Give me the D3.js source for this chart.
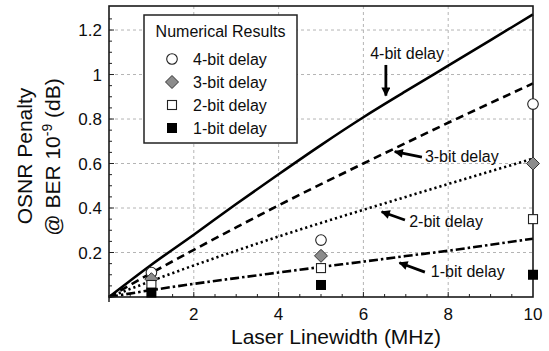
<!DOCTYPE html>
<html>
<head>
<meta charset="utf-8">
<script src="https://cdn.jsdelivr.net/npm/d3@7"></script>
<style>
  html, body { margin: 0; padding: 0; background: #fff; }
  svg { display: block; }
</style>
</head>
<body>
<svg id="chart" width="549" height="351"></svg>
<script>
// ─── Data ───────────────────────────────────────────────────────────────────
const linewidth = [0, 1, 2, 3, 4, 5, 6, 7, 8, 9, 10];           // MHz
const theory4 = [0, 0.145, 0.28, 0.418, 0.552, 0.683, 0.808, 0.925, 1.04, 1.155, 1.27];
const theory3 = [0, 0.108, 0.212, 0.313, 0.412, 0.507, 0.6, 0.692, 0.783, 0.872, 0.96];
const theory2 = [0, 0.072, 0.142, 0.208, 0.272, 0.333, 0.392, 0.45, 0.508, 0.565, 0.622];
const theory1 = [0, 0.031, 0.059, 0.085, 0.11, 0.135, 0.159, 0.184, 0.208, 0.235, 0.262];

const simX = [1, 5, 10];
const sim4 = [0.11, 0.256, 0.867];
const sim3 = [0.08, 0.185, 0.60];
const sim2 = [0.054, 0.13, 0.35];
const sim1 = [0.02, 0.054, 0.10];

const xTicks = [2, 4, 6, 8, 10];
const yTicks = [0.2, 0.4, 0.6, 0.8, 1, 1.2];
const legendLabels = ['4-bit delay', '3-bit delay', '2-bit delay', '1-bit delay'];

// annotation: text anchor point and arrow (from → to), all in data units
const notes = [
  { label: '4-bit delay', tx: 6.16, ty: 1.07, ax1: 6.53, ay1: 1.043, ax2: 6.53, ay2: 0.905 },
  { label: '3-bit delay', tx: 7.45, ty: 0.607, ax1: 7.38, ay1: 0.629, ax2: 6.74, ay2: 0.653 },
  { label: '2-bit delay', tx: 7.08, ty: 0.315, ax1: 6.98, ay1: 0.346, ax2: 6.43, ay2: 0.383 },
  { label: '1-bit delay', tx: 7.59, ty: 0.09, ax1: 7.45, ay1: 0.112, ax2: 6.85, ay2: 0.154 },
];

// ─── Layout ─────────────────────────────────────────────────────────────────
const FONT = 'Liberation Sans, Arial, sans-serif';
const INK = '#0d0d0d';
const svg = d3.select('#chart');
const plot = { left: 109, right: 533, top: 6, bottom: 297 };

const x = d3.scaleLinear().domain([0, 10]).range([plot.left, plot.right]);
const y = d3.scaleLinear().domain([0, 1.308]).range([plot.bottom, plot.top]);

svg.append('defs').append('marker')
  .attr('id', 'head').attr('viewBox', '0 0 10 10')
  .attr('refX', 9).attr('refY', 5)
  .attr('markerWidth', 3.6).attr('markerHeight', 3.2)
  .attr('markerUnits', 'strokeWidth').attr('orient', 'auto')
  .append('path').attr('d', 'M0,0L10,5L0,10Z').attr('fill', '#000');

// Grid
const grid = svg.append('g').attr('stroke', '#b4b4b4').attr('stroke-width', 1)
  .attr('stroke-dasharray', '3,3');
grid.selectAll('line.gx').data(xTicks.filter(d => d < 10)).enter().append('line')
  .attr('x1', d => x(d)).attr('x2', d => x(d))
  .attr('y1', plot.top).attr('y2', plot.bottom);
grid.selectAll('line.gy').data(yTicks).enter().append('line')
  .attr('x1', plot.left).attr('x2', plot.right)
  .attr('y1', d => y(d)).attr('y2', d => y(d));

// Minor ticks (inside)
const ticks = svg.append('g').attr('stroke', '#222').attr('stroke-width', 1);
ticks.selectAll('line.mx').data(d3.range(0.5, 10, 0.5)).enter().append('line')
  .attr('x1', d => x(d)).attr('x2', d => x(d))
  .attr('y1', plot.bottom).attr('y2', d => plot.bottom - (d % 2 === 0 ? 5 : 3));
ticks.selectAll('line.my').data(d3.range(0.05, 1.3, 0.05)).enter().append('line')
  .attr('y1', d => y(d)).attr('y2', d => y(d))
  .attr('x1', plot.left).attr('x2', d => plot.left + (Math.abs(d * 5 - Math.round(d * 5)) < 1e-6 ? 5 : 3));
ticks.append('line').attr('x1', plot.left).attr('x2', plot.left)
  .attr('y1', plot.bottom).attr('y2', plot.bottom + 5).attr('stroke-width', 1.5);

// Theory curves
const line = d3.line().x(d => x(d[0])).y(d => y(d[1])).curve(d3.curveMonotoneX);
const curves = [
  { vals: theory4, dash: null },
  { vals: theory3, dash: '8,5' },
  { vals: theory2, dash: '2.2,3' },
  { vals: theory1, dash: '9,3,2.5,3' },
];
const curveG = svg.append('g');
curves.forEach(c => {
  curveG.append('path')
    .datum(linewidth.map((v, i) => [v, c.vals[i]]))
    .attr('d', line).attr('fill', 'none').attr('stroke', '#000')
    .attr('stroke-width', 2.6)
    .attr('stroke-dasharray', c.dash);
});

// Frame
svg.append('rect')
  .attr('x', plot.left).attr('y', plot.top)
  .attr('width', plot.right - plot.left).attr('height', plot.bottom - plot.top)
  .attr('fill', 'none').attr('stroke', '#1a1a1a').attr('stroke-width', 1.6);

// Markers
function drawMarker(g, kind, cx, cy) {
  if (kind === 'circle') {
    g.append('circle').attr('cx', cx).attr('cy', cy).attr('r', 5.3)
      .attr('fill', '#fff').attr('stroke', '#222').attr('stroke-width', 1.1);
  } else if (kind === 'diamond') {
    const s = 6.5;
    g.append('path').attr('d', `M${cx},${cy - s}L${cx + s},${cy}L${cx},${cy + s}L${cx - s},${cy}Z`)
      .attr('fill', '#8c8c8c').attr('stroke', '#333').attr('stroke-width', 1);
  } else if (kind === 'square') {
    g.append('rect').attr('x', cx - 4.5).attr('y', cy - 4.5).attr('width', 9).attr('height', 9)
      .attr('fill', '#fff').attr('stroke', '#222').attr('stroke-width', 1.1);
  } else {
    g.append('rect').attr('x', cx - 5).attr('y', cy - 5).attr('width', 10).attr('height', 10)
      .attr('fill', '#000');
  }
}
const series = [
  { kind: 'circle', vals: sim4 },
  { kind: 'diamond', vals: sim3 },
  { kind: 'square', vals: sim2 },
  { kind: 'filled', vals: sim1 },
];
const markG = svg.append('g');
series.forEach(s => simX.forEach((v, i) => drawMarker(markG, s.kind, x(v), y(s.vals[i]))));

// Annotations
const noteG = svg.append('g');
notes.forEach(n => {
  noteG.append('text').attr('x', x(n.tx)).attr('y', y(n.ty))
    .attr('font-family', FONT).attr('font-size', 16).attr('fill', INK)
    .text(n.label);
  noteG.append('line')
    .attr('x1', x(n.ax1)).attr('y1', y(n.ay1))
    .attr('x2', x(n.ax2)).attr('y2', y(n.ay2))
    .attr('stroke', '#000').attr('stroke-width', 2.8)
    .attr('marker-end', 'url(#head)');
});

// Legend
const leg = svg.append('g');
leg.append('rect').attr('x', 144).attr('y', 15).attr('width', 153).attr('height', 128)
  .attr('fill', '#fff').attr('stroke', '#222').attr('stroke-width', 1.5);
leg.append('text').attr('x', 220.5).attr('y', 37).attr('text-anchor', 'middle')
  .attr('font-family', FONT).attr('font-size', 16).attr('fill', INK)
  .text('Numerical Results');
series.forEach((s, i) => {
  const cy = 59 + i * 23;
  drawMarker(leg, s.kind, 172, cy);
  leg.append('text').attr('x', 193).attr('y', cy + 6)
    .attr('font-family', FONT).attr('font-size', 16).attr('fill', INK)
    .text(legendLabels[i]);
});

// Tick labels
svg.selectAll('text.xt').data(xTicks).enter().append('text')
  .attr('x', d => x(d)).attr('y', 320).attr('text-anchor', 'middle')
  .attr('font-family', FONT).attr('font-size', 17).attr('fill', INK)
  .text(d => d);
svg.selectAll('text.yt').data(yTicks).enter().append('text')
  .attr('x', 102).attr('y', d => y(d) + 6).attr('text-anchor', 'end')
  .attr('font-family', FONT).attr('font-size', 17).attr('fill', INK)
  .text(d => d);

// Axis titles
svg.append('text').attr('x', 336).attr('y', 344).attr('text-anchor', 'middle')
  .attr('font-family', FONT).attr('font-size', 21).attr('fill', INK)
  .text('Laser Linewidth (MHz)');

svg.append('text')
  .attr('transform', 'translate(32,156) rotate(-90)').attr('text-anchor', 'middle')
  .attr('font-family', FONT).attr('font-size', 21).attr('fill', INK)
  .text('OSNR Penalty');
const yt2 = svg.append('text')
  .attr('transform', 'translate(60,157) rotate(-90)').attr('text-anchor', 'middle')
  .attr('font-family', FONT).attr('font-size', 21).attr('fill', INK);
yt2.append('tspan').text('@ BER 10');
yt2.append('tspan').attr('font-size', 14).attr('dy', -8).text('-9');
yt2.append('tspan').attr('dy', 8).text(' (dB)');
</script>
</body>
</html>
